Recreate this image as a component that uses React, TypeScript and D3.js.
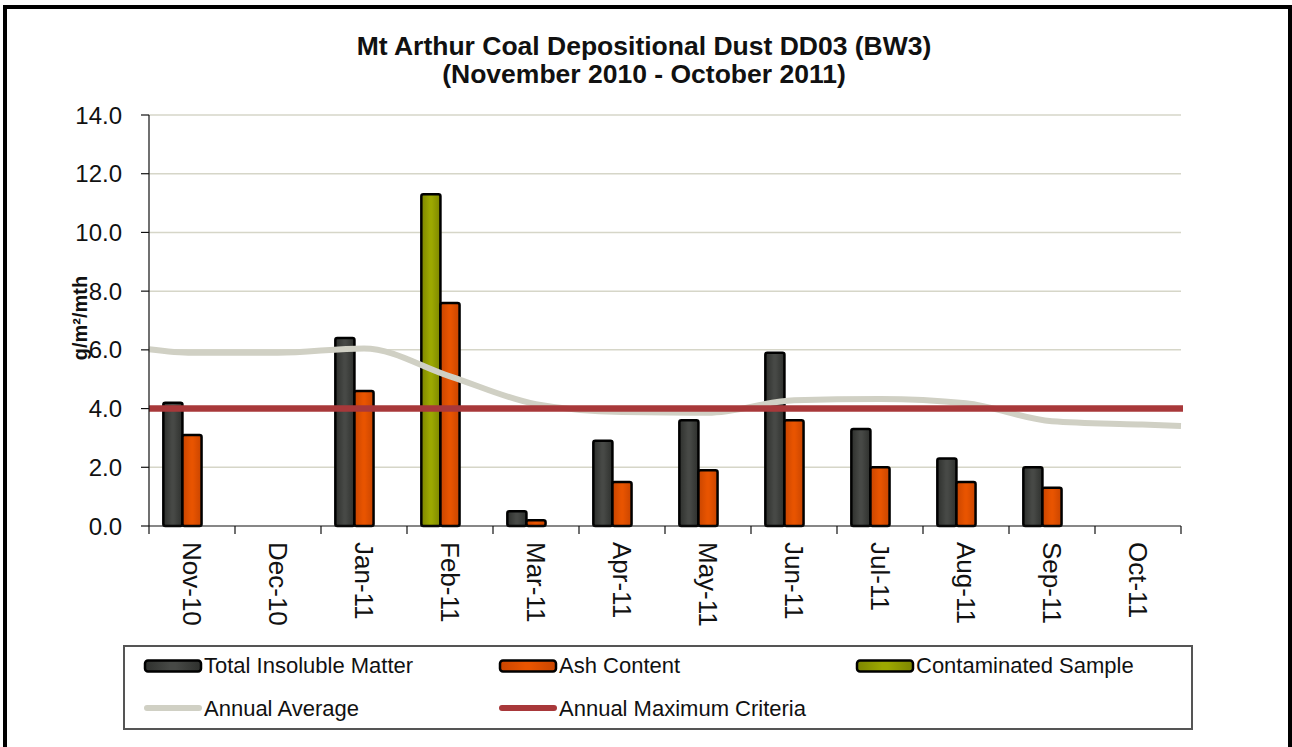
import React from "react";
import * as d3 from "d3";

const months = ["Nov-10", "Dec-10", "Jan-11", "Feb-11", "Mar-11", "Apr-11", "May-11", "Jun-11", "Jul-11", "Aug-11", "Sep-11", "Oct-11"];
const totalInsoluble: (number | null)[] = [4.2, null, 6.4, null, 0.5, 2.9, 3.6, 5.9, 3.3, 2.3, 2.0, null];
const ashContent: (number | null)[] = [3.1, null, 4.6, 7.6, 0.2, 1.5, 1.9, 3.6, 2.0, 1.5, 1.3, null];
const contaminated: (number | null)[] = [null, null, null, 11.3, null, null, null, null, null, null, null, null];
const annualAverage = [5.9, 5.9, 6.05, 5.1, 4.15, 3.88, 3.86, 4.28, 4.33, 4.18, 3.57, 3.46];
const annualAverageEdges = [6.02, 3.41];
const criteria = 4.0;
const yTicks = [0, 2, 4, 6, 8, 10, 12, 14];

const W = 1292;
const H = 747;
const L = 149, R = 1181, T = 115, B = 526;
const FONT = "'Liberation Sans', Arial, sans-serif";

export default function App() {
  const x = d3.scaleBand<string>().domain(months).range([L, R]).paddingInner(0).paddingOuter(0);
  const sub = d3.scaleBand<string>().domain(["main", "ash", "spare"]).range([0, x.bandwidth()]).paddingInner(0).paddingOuter(0.75);
  const y = d3.scaleLinear().domain([0, 14]).range([B, T]);
  const bw = sub.bandwidth();

  const avgPts: [number, number][] = [
    [L, y(annualAverageEdges[0])],
    ...annualAverage.map((v, i) => [x(months[i])! + x.bandwidth() / 2, y(v)] as [number, number]),
    [R, y(annualAverageEdges[1])],
  ];
  const avgLine = d3.line().curve(d3.curveMonotoneX)(avgPts) || "";

  const bars: { key: string; x: number; y: number; h: number; fill: string }[] = [];
  months.forEach((m, i) => {
    const x0 = x(m)!;
    const t = totalInsoluble[i];
    if (t != null) bars.push({ key: "t" + i, x: x0 + sub("main")!, y: y(t), h: y(0) - y(t), fill: "url(#gDark)" });
    const c = contaminated[i];
    if (c != null) bars.push({ key: "c" + i, x: x0 + sub("main")!, y: y(c), h: y(0) - y(c), fill: "url(#gGreen)" });
    const a = ashContent[i];
    if (a != null) bars.push({ key: "a" + i, x: x0 + sub("ash")!, y: y(a), h: y(0) - y(a), fill: "url(#gOrange)" });
  });

  const boundaries = months.map((m) => x(m)!).concat([R]);

  const legendBar = (lx: number, ly: number, fill: string, label: string) => (
    <g key={label}>
      <rect x={lx} y={ly - 5.5} width={56} height={11} rx={3} fill={fill} stroke="#000" strokeWidth={2.5} />
      <text x={lx + 59} y={ly + 7} fontSize={22} fill="#111" fontFamily={FONT}>{label}</text>
    </g>
  );
  const legendLine = (lx: number, ly: number, color: string, label: string) => (
    <g key={label}>
      <line x1={lx + 2} x2={lx + 54} y1={ly} y2={ly} stroke={color} strokeWidth={6} strokeLinecap="round" />
      <text x={lx + 59} y={ly + 7.5} fontSize={22} fill="#111" fontFamily={FONT}>{label}</text>
    </g>
  );

  const grad = (id: string, edge: string, mid: string) => (
    <linearGradient id={id} x1="0" x2="1" y1="0" y2="0">
      <stop offset="0" stopColor={edge} />
      <stop offset="0.45" stopColor={mid} />
      <stop offset="0.55" stopColor={mid} />
      <stop offset="1" stopColor={edge} />
    </linearGradient>
  );

  return (
    <div style={{ position: "absolute", left: 0, top: 0 }}>
      <svg width={W} height={H} style={{ display: "block" }}>
        <defs>
          {grad("gDark", "#2e302d", "#474946")}
          {grad("gOrange", "#c94500", "#e85400")}
          {grad("gGreen", "#7d8600", "#9ca800")}
        </defs>
        <rect x={0} y={0} width={W} height={H} fill="#fff" />
        <rect x={5} y={7} width={1285} height={760} fill="none" stroke="#000" strokeWidth={4} />

        <text x={644} y={55} textAnchor="middle" fontSize={26.5} fontWeight="bold" fontFamily={FONT} fill="#111">
          Mt Arthur Coal Depositional Dust DD03 (BW3)
        </text>
        <text x={644} y={83} textAnchor="middle" fontSize={26.5} fontWeight="bold" fontFamily={FONT} fill="#111">
          (November 2010 - October 2011)
        </text>

        {yTicks.filter((v) => v > 0).map((v) => (
          <line key={"g" + v} x1={L} x2={R} y1={y(v)} y2={y(v)} stroke="#d6d6c8" strokeWidth={1.5} />
        ))}

        {bars.map((b) => (
          <rect key={b.key} x={b.x} y={b.y} width={bw} height={b.h} rx={2} fill={b.fill} stroke="#000" strokeWidth={2.5} />
        ))}

        <path d={avgLine} fill="none" stroke="#d0d0c4" strokeWidth={6} strokeLinejoin="round" />
        <line x1={L} x2={R + 2} y1={y(criteria)} y2={y(criteria)} stroke="#a8383a" strokeWidth={6.5} />

        <line x1={L} x2={L} y1={T} y2={B} stroke="#111" strokeWidth={1.2} />
        <line x1={L} x2={R} y1={B} y2={B} stroke="#111" strokeWidth={1.2} />
        {yTicks.map((v) => (
          <g key={"t" + v}>
            <line x1={L - 8} x2={L} y1={y(v)} y2={y(v)} stroke="#111" strokeWidth={1.2} />
            <text x={122} y={y(v) + 8.5} textAnchor="end" fontSize={24} fontFamily={FONT} fill="#111">
              {v.toFixed(1)}
            </text>
          </g>
        ))}
        {boundaries.map((bx, i) => (
          <line key={"xt" + i} x1={bx} x2={bx} y1={B} y2={B + 8} stroke="#111" strokeWidth={1.2} />
        ))}
        {months.map((m) => {
          const cx = x(m)! + x.bandwidth() / 2;
          return (
            <text key={m} transform={`translate(${cx},542) rotate(90)`} dy="0.36em" fontSize={26} fontFamily={FONT} fill="#111">
              {m}
            </text>
          );
        })}

        <text transform="translate(87,318) rotate(-90)" textAnchor="middle" fontSize={20} fontWeight="bold" fontFamily={FONT} fill="#111">
          g/m²/mth
        </text>

        <rect x={124} y={646} width={1068} height={83} fill="#fff" stroke="#555" strokeWidth={2} />
        {legendBar(145, 666, "url(#gDark)", "Total Insoluble Matter")}
        {legendBar(500, 666, "url(#gOrange)", "Ash Content")}
        {legendBar(857, 666, "url(#gGreen)", "Contaminated Sample")}
        {legendLine(145, 708, "#d0d0c4", "Annual Average")}
        {legendLine(500, 708, "#a8383a", "Annual Maximum Criteria")}
      </svg>
    </div>
  );
}
